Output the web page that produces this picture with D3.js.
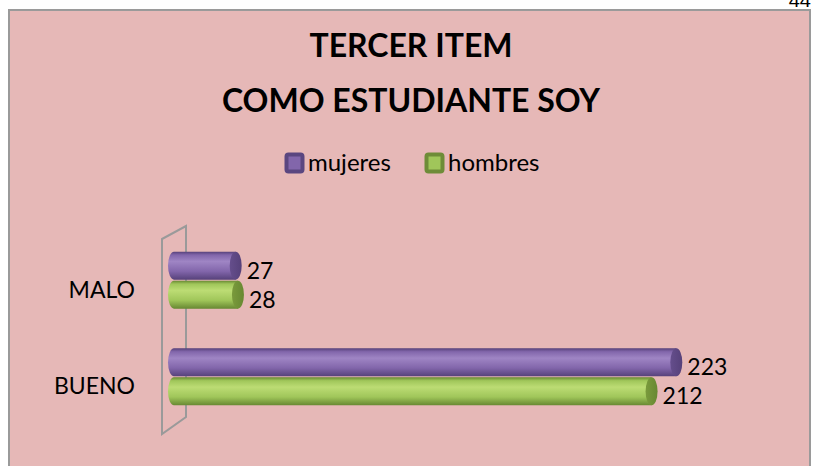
<!DOCTYPE html>
<html>
<head>
<meta charset="utf-8">
<script src="https://cdn.jsdelivr.net/npm/d3@7"></script>
<style>
  body { margin: 0; background: #fff; }
  svg { display: block; font-family: Lato, "Open Sans", sans-serif; }
</style>
</head>
<body>
<div id="chart"></div>
<script>
var categories = ["MALO", "BUENO"];
var seriesNames = ["mujeres", "hombres"];
var mujeres = [27, 223];
var hombres = [28, 212];
var titleLines = ["TERCER ITEM", "COMO ESTUDIANTE SOY"];

var width = 815, height = 466;

var colors = {
    mujeres: { light: "#9f85c4", mid: "#8266ab", dark: "#56417a", cap: "#654e8c", edge: "#5a4680" },
    hombres: { light: "#bcdc74", mid: "#a0c65a", dark: "#678832", cap: "#7a9a3c", edge: "#6e8c38" }
};

var svg = d3.select("#chart")
    .append("svg")
    .attr("width", width)
    .attr("height", height);

// page number peeking out at the top
svg.append("text")
    .attr("x", 811)
    .attr("y", 7)
    .attr("text-anchor", "end")
    .style("font-size", "20px")
    .style("font-family", "'Liberation Sans', Arial, sans-serif")
    .text("44");

// chart area
svg.append("rect")
    .attr("x", 9)
    .attr("y", 10)
    .attr("width", 801)
    .attr("height", 470)
    .attr("fill", "#e6b8b7")
    .attr("stroke", "#9a9a9a")
    .attr("stroke-width", 2);

// title
svg.selectAll(".title")
    .data(titleLines)
    .enter()
    .append("text")
    .attr("class", "title")
    .attr("x", 411)
    .attr("y", function (d, i) { return 57 + i * 55; })
    .attr("text-anchor", "middle")
    .style("font-size", "32px")
    .style("font-weight", "bold")
    .attr("fill", "#000")
    .text(function (d) { return d; });

// gradients for the cylinders
var defs = svg.append("defs");
seriesNames.forEach(function (s) {
    var g = defs.append("linearGradient")
        .attr("id", "grad-" + s)
        .attr("x1", 0).attr("y1", 0).attr("x2", 0).attr("y2", 1);
    g.append("stop").attr("offset", "0%").attr("stop-color", colors[s].dark);
    g.append("stop").attr("offset", "12%").attr("stop-color", colors[s].mid);
    g.append("stop").attr("offset", "35%").attr("stop-color", colors[s].light);
    g.append("stop").attr("offset", "70%").attr("stop-color", colors[s].mid);
    g.append("stop").attr("offset", "100%").attr("stop-color", colors[s].dark);
    var c = defs.append("linearGradient")
        .attr("id", "cap-" + s)
        .attr("x1", 0).attr("y1", 0).attr("x2", 1).attr("y2", 0);
    c.append("stop").attr("offset", "0%").attr("stop-color", colors[s].cap);
    c.append("stop").attr("offset", "100%").attr("stop-color", colors[s].dark);
});

// legend
var legend = svg.append("g").attr("class", "legend");
var legendX = [285, 425];
seriesNames.forEach(function (s, i) {
    var lg = legend.append("g").attr("transform", "translate(" + legendX[i] + ",153)");
    lg.append("rect")
        .attr("x", 1.5).attr("y", 1.5)
        .attr("width", 16).attr("height", 17)
        .attr("rx", 2)
        .attr("fill", colors[s].mid)
        .attr("stroke", colors[s].edge)
        .attr("stroke-width", 4);
    lg.append("text")
        .attr("x", 23)
        .attr("y", 10)
        .attr("dy", "0.35em")
        .style("font-size", "24px")
        .text(s);
});

// scales
var x = d3.scaleLinear()
    .domain([0, 250])
    .range([175, 737]);

var y = d3.scaleBand()
    .domain(categories)
    .range([242, 416])
    .paddingInner(0.4)
    .paddingOuter(0.1);

var ySub = d3.scaleBand()
    .domain(seriesNames)
    .range([0, y.bandwidth()]);

// 3D wall on the left
var wallFront = x(0) - 13, wallBack = x(0) + 11;
var wallTop = y.range()[0] - 16, wallBottom = y.range()[1] + 1;
svg.append("path")
    .attr("d", "M" + wallFront + "," + (wallTop + 13) +
        "L" + wallBack + "," + wallTop +
        "L" + wallBack + "," + wallBottom +
        "L" + wallFront + "," + (wallBottom + 17) + "Z")
    .attr("fill", "none")
    .attr("stroke", "#9a9a9a")
    .attr("stroke-width", 2);

// category labels
svg.selectAll(".cat")
    .data(categories)
    .enter()
    .append("text")
    .attr("class", "cat")
    .attr("x", 135)
    .attr("y", function (d) { return y(d) + y.bandwidth() / 2 + 9; })
    .attr("text-anchor", "end")
    .attr("dy", "0.35em")
    .style("font-size", "23px")
    .text(function (d) { return d; });

// cylinders
var rows = [];
categories.forEach(function (c, i) {
    rows.push({ cat: c, series: "mujeres", value: mujeres[i] });
    rows.push({ cat: c, series: "hombres", value: hombres[i] });
});

var bars = svg.selectAll(".bar")
    .data(rows)
    .enter()
    .append("g")
    .attr("class", "bar")
    .attr("transform", function (d) {
        return "translate(0," + (y(d.cat) + ySub(d.series)) + ")";
    });

var h = ySub.bandwidth() - 1;
var rx = 6;

bars.append("path")
    .attr("d", function (d) {
        var x0 = x(0) - 7, x1 = x(d.value);
        return "M" + (x0 + rx) + ",0" +
            "L" + x1 + ",0" +
            "L" + x1 + "," + h +
            "L" + (x0 + rx) + "," + h +
            "A" + rx + "," + (h / 2) + " 0 0 1 " + (x0 + rx) + ",0Z";
    })
    .attr("fill", function (d) { return "url(#grad-" + d.series + ")"; });

bars.append("ellipse")
    .attr("cx", function (d) { return x(d.value); })
    .attr("cy", h / 2)
    .attr("rx", rx)
    .attr("ry", h / 2)
    .attr("fill", function (d) { return "url(#cap-" + d.series + ")"; });

bars.append("text")
    .attr("x", function (d) { return x(d.value) + 11; })
    .attr("y", h / 2 + 5)
    .attr("dy", "0.35em")
    .style("font-size", "23px")
    .text(function (d) { return d.value; });
</script>
</body>
</html>
